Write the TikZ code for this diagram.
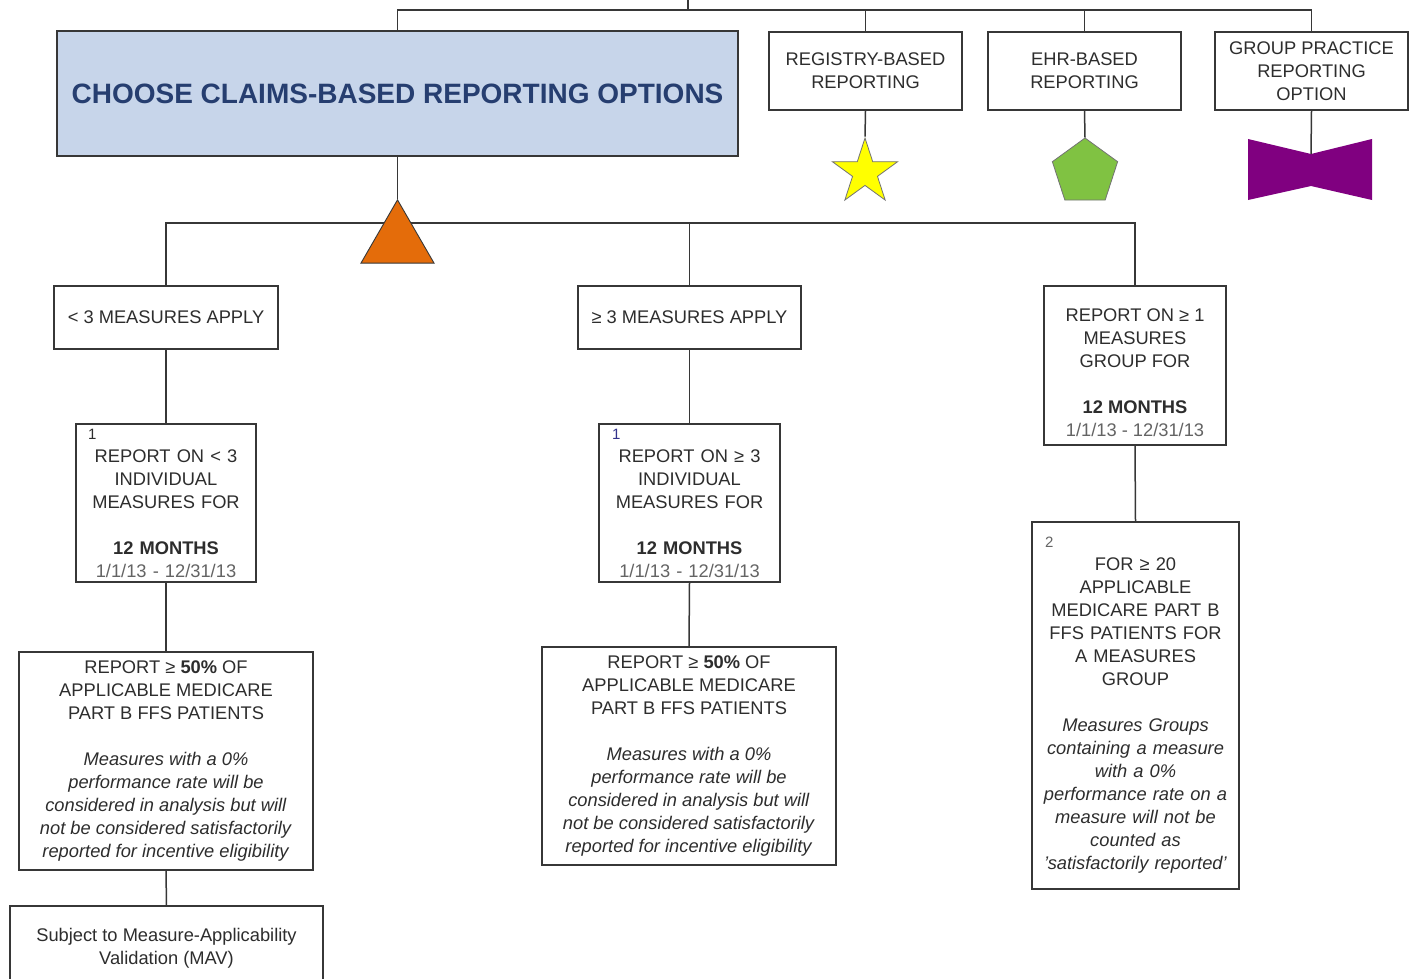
\documentclass[tikz,border=0pt]{standalone}
\usepackage{fontspec}
\setmainfont{Liberation Sans}
\usetikzlibrary{shapes.geometric}
\definecolor{txt}{RGB}{45,45,45}
\definecolor{edge}{RGB}{55,55,55}
\definecolor{datec}{RGB}{100,100,100}
\definecolor{titlefill}{RGB}{199,213,234}
\definecolor{titletext}{RGB}{38,62,112}
\definecolor{starY}{RGB}{255,255,0}
\definecolor{pentG}{RGB}{128,194,66}
\definecolor{bowP}{RGB}{128,0,128}
\definecolor{triO}{RGB}{228,108,10}
\definecolor{numblue}{RGB}{50,50,140}
\tikzset{
  box/.style={draw=edge, line width=1.4pt, fill=white, inner sep=0pt, align=center,
    text=txt, font=\fontsize{18.3}{23}\selectfont},
  link/.style={draw=edge, line width=1.5pt},
  shapeline/.style={draw=edge!70, line width=0.8pt},
}
\newcommand{\datesline}{\textcolor{datec}{1/1/13 - 12/31/13}}
\newcommand{\numline}[3][txt]{\makebox[\linewidth][l]{\hspace*{#2}\fontsize{15}{23}\selectfont\textcolor{#1}{#3}}}
\begin{document}
\begin{tikzpicture}[x=1pt,y=-1pt]
\useasboundingbox (0,0) rectangle (1416,979);
\clip (0,0) rectangle (1416,979);
\fill[white] (0,0) rectangle (1416,979);

% top row
\node[box, fill=titlefill, draw=edge, text=titletext, minimum width=681pt, minimum height=125pt,
  font=\fontsize{28}{32}\selectfont\bfseries] (title) at (397.5,93.5) {CHOOSE CLAIMS-BASED REPORTING OPTIONS};
\node[box, minimum width=193pt, minimum height=78pt] (reg) at (865.5,71) {REGISTRY-BASED\\REPORTING};
\node[box, minimum width=193pt, minimum height=78pt] (ehr) at (1084.5,71) {EHR-BASED\\REPORTING};
\node[box, minimum width=193pt, minimum height=78pt] (gp) at (1311.5,71) {GROUP PRACTICE\\REPORTING\\OPTION};

\coordinate (topin) at (688,0);
\coordinate (topbus) at (688,10);
\draw[link] (topin) -- (topbus);
\draw[link] (title.north) -- (title.north |- topbus) -| (gp.north);
\draw[link] (reg.north) -- (reg.north |- topbus);
\draw[link] (ehr.north) -- (ehr.north |- topbus);

% symbols
\node[star, star points=5, star point ratio=2.618, minimum size=68.6pt, inner sep=0pt,
  fill=starY, shapeline] (star) at (865,172.3) {};
\node[regular polygon, regular polygon sides=5, minimum size=68.6pt, inner sep=0pt,
  fill=pentG, shapeline] (pent) at (1085,172.3) {};
\coordinate (bow) at (1311,154);
\fill[bowP] (1248,139) -- (bow) -- (1372,139) -- (1372,200) -- (1311,186) -- (1248,200) -- cycle;
\draw[link] (reg.south) -- (star.outer point 1);
\draw[link] (ehr.south) -- (pent.corner 1);
\draw[link] (gp.south) -- (bow);

% second row
\node[box, minimum width=224pt, minimum height=63pt] (l2a) at (166,317.5) {< 3 MEASURES APPLY};
\node[box, minimum width=223pt, minimum height=63pt] (l2b) at (689.5,317.5) {≥ 3 MEASURES APPLY};
\node[box, minimum width=182pt, minimum height=159pt] (l2c) at (1135,365.5)
  {\mbox{}\\[5pt]REPORT ON ≥ 1\\MEASURES\\GROUP FOR\\[23pt]\textbf{12 MONTHS}\\\datesline};

\coordinate (bus) at (397.5,223);
\draw[link] (l2a.north) |- (bus) -| (l2c.north);
\draw[link] (l2b.north) -- (l2b.north |- bus);

\node[regular polygon, regular polygon sides=3, minimum size=84.3pt, inner sep=0pt,
  fill=triO, draw=edge, line width=0.9pt] (tri) at (397.5,242) {};
\draw[link] (title.south) -- (tri.corner 1);

% third row
\node[box, minimum width=180pt, minimum height=158pt, text width=172pt] (l3a) at (166,503)
  {\numline{8pt}{1}\\REPORT ON < 3\\INDIVIDUAL\\MEASURES FOR\\[23pt]\textbf{12 MONTHS}\\\datesline};
\node[box, minimum width=181pt, minimum height=158pt, text width=173pt] (l3b) at (689.5,503)
  {\numline[numblue]{9pt}{1}\\REPORT ON ≥ 3\\INDIVIDUAL\\MEASURES FOR\\[23pt]\textbf{12 MONTHS}\\\datesline};
\node[box, minimum width=207pt, minimum height=367pt, text width=199pt] (l3c) at (1135.5,705.5)
  {\numline[datec]{9pt}{2}\\FOR ≥ 20\\APPLICABLE\\MEDICARE PART B\\FFS PATIENTS FOR\\A MEASURES\\GROUP\\[23pt]
   \textit{Measures Groups}\\\textit{containing a measure}\\\textit{with a 0\%}\\\textit{performance rate on a}\\
   \textit{measure will not be}\\\textit{counted as}\\\textit{'satisfactorily reported'}};

% fourth row
\node[box, minimum width=294pt, minimum height=218pt] (l4a) at (166,761)
  {REPORT ≥ \textbf{50\%} OF\\APPLICABLE MEDICARE\\PART B FFS PATIENTS\\[23pt]
   \textit{Measures with a 0\%}\\\textit{performance rate will be}\\\textit{considered in analysis but will}\\
   \textit{not be considered satisfactorily}\\\textit{reported for incentive eligibility}};
\node[box, minimum width=294pt, minimum height=218pt] (l4b) at (689,756)
  {REPORT ≥ \textbf{50\%} OF\\APPLICABLE MEDICARE\\PART B FFS PATIENTS\\[23pt]
   \textit{Measures with a 0\%}\\\textit{performance rate will be}\\\textit{considered in analysis but will}\\
   \textit{not be considered satisfactorily}\\\textit{reported for incentive eligibility}};
\node[box, minimum width=313pt, minimum height=104pt] (mav) at (166.5,958)
  {Subject to Measure-Applicability\\Validation (MAV)\\\mbox{}};

\draw[link] (l2a.south) -- (l3a.north);
\draw[link] (l3a.south) -- (l4a.north);
\draw[link] (l4a.south) -- (mav.north);
\draw[link] (l2b.south) -- (l3b.north);
\draw[link] (l3b.south) -- (l4b.north);
\draw[link] (l2c.south) -- (l3c.north);
\end{tikzpicture}
\end{document}
